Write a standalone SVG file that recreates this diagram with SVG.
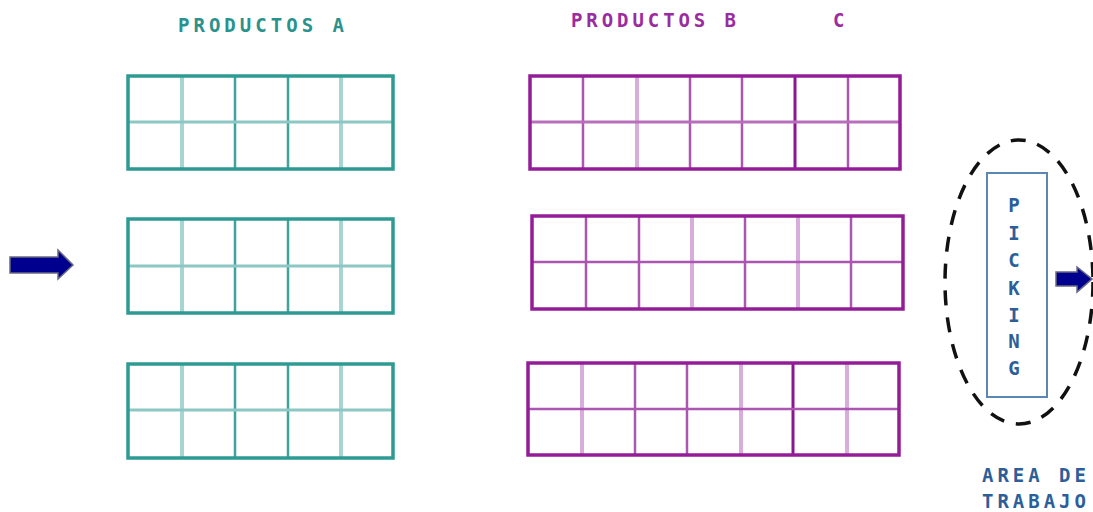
<svg xmlns="http://www.w3.org/2000/svg" width="1093" height="512" viewBox="0 0 1093 512">
<style>
.lbl{font-family:"DejaVu Sans Mono","Liberation Mono",monospace;font-weight:bold;font-size:19px}
.teal{fill:#2A928D}
.purp{fill:#9A2C9F}
.blue{fill:#2C5F9A}
.to{fill:none;stroke:#2E9A94;stroke-width:3.5}
.tm{stroke:#3FA39D;stroke-width:2.5}
.tl{stroke:#A7D5D2;stroke-width:4}
.th{stroke:#8CC7C3;stroke-width:3}
.po{fill:none;stroke:#941C98;stroke-width:3.5}
.pd{stroke:#8A1690;stroke-width:3}
.pm{stroke:#AB56B0;stroke-width:2.5}
.pl{stroke:#D8ACDB;stroke-width:4}
.ph{stroke:#B76FBC;stroke-width:3}
.arrow{fill:#00008E;stroke:#6A6A80;stroke-width:1.5}
</style>
<rect width="1093" height="512" fill="#fff"/>
<text class="lbl teal" x="178" y="32" textLength="166" lengthAdjust="spacing">PRODUCTOS A</text>
<text class="lbl purp" x="571" y="27" textLength="165" lengthAdjust="spacing">PRODUCTOS B</text>
<text class="lbl purp" x="833" y="27">C</text>

<g id="grid-a1">
<line class="tl" x1="182" y1="76" x2="182" y2="169"/><line class="tm" x1="235" y1="76" x2="235" y2="169"/><line class="tm" x1="288" y1="76" x2="288" y2="169"/><line class="tl" x1="341" y1="76" x2="341" y2="169"/>
<line class="th" x1="128" y1="122" x2="393" y2="122"/>
<rect class="to" x="128" y="76" width="265" height="93"/>
</g>
<g id="grid-a2">
<line class="tl" x1="182" y1="219" x2="182" y2="313"/><line class="tm" x1="235" y1="219" x2="235" y2="313"/><line class="tm" x1="288" y1="219" x2="288" y2="313"/><line class="tl" x1="341" y1="219" x2="341" y2="313"/>
<line class="th" x1="128" y1="266" x2="393" y2="266"/>
<rect class="to" x="128" y="219" width="265" height="94"/>
</g>
<g id="grid-a3">
<line class="tl" x1="182" y1="364" x2="182" y2="458"/><line class="tm" x1="235" y1="364" x2="235" y2="458"/><line class="tm" x1="288" y1="364" x2="288" y2="458"/><line class="tl" x1="341" y1="364" x2="341" y2="458"/>
<line class="th" x1="128" y1="410" x2="393" y2="410"/>
<rect class="to" x="128" y="364" width="265" height="94"/>
</g>

<g id="grid-b1">
<line class="pm" x1="583" y1="76" x2="583" y2="169"/><line class="pl" x1="637" y1="76" x2="637" y2="169"/><line class="pm" x1="690" y1="76" x2="690" y2="169"/><line class="pm" x1="742" y1="76" x2="742" y2="169"/><line class="pd" x1="795" y1="76" x2="795" y2="169"/><line class="pm" x1="848" y1="76" x2="848" y2="169"/>
<line class="ph" x1="530" y1="122" x2="900" y2="122"/>
<rect class="po" x="530" y="76" width="370" height="93"/>
</g>
<g id="grid-b2">
<line class="pm" x1="586" y1="216" x2="586" y2="309"/><line class="pm" x1="639" y1="216" x2="639" y2="309"/><line class="pl" x1="692" y1="216" x2="692" y2="309"/><line class="pm" x1="745" y1="216" x2="745" y2="309"/><line class="pl" x1="798" y1="216" x2="798" y2="309"/><line class="pm" x1="851" y1="216" x2="851" y2="309"/>
<line class="pm" x1="532" y1="262" x2="903" y2="262"/>
<rect class="po" x="532" y="216" width="371" height="93"/>
</g>
<g id="grid-b3">
<line class="pl" x1="582" y1="363" x2="582" y2="455"/><line class="pm" x1="635" y1="363" x2="635" y2="455"/><line class="pm" x1="687" y1="363" x2="687" y2="455"/><line class="pl" x1="741" y1="363" x2="741" y2="455"/><line class="pd" x1="793" y1="363" x2="793" y2="455"/><line class="pl" x1="847" y1="363" x2="847" y2="455"/>
<line class="pm" x1="528" y1="409" x2="899" y2="409"/>
<rect class="po" x="528" y="363" width="371" height="92"/>
</g>

<g id="picking">
<ellipse cx="1019" cy="282" rx="74" ry="142" fill="none" stroke="#111" stroke-width="3.5" stroke-dasharray="15 12"/>
<rect x="987" y="173" width="60" height="224" fill="#fff" stroke="#5A87B4" stroke-width="2"/>
<g class="lbl blue" text-anchor="middle">
<text x="1014" y="212">P</text><text x="1014" y="240">I</text><text x="1014" y="267">C</text><text x="1014" y="295">K</text><text x="1014" y="322">I</text><text x="1014" y="348">N</text><text x="1014" y="375">G</text>
</g>
</g>

<g id="area-label" class="lbl blue">
<text x="982" y="482" textLength="104" lengthAdjust="spacing">AREA DE</text>
<text x="982" y="508" textLength="104" lengthAdjust="spacing">TRABAJO</text>
</g>

<g id="connectors">
<polygon class="arrow" points="10,257 58,257 58,250 73,265 58,279 58,273 10,273"/>
<polygon class="arrow" points="1056,272 1077,272 1077,267 1092,279 1077,292 1077,286 1056,286"/>
</g>
</svg>
